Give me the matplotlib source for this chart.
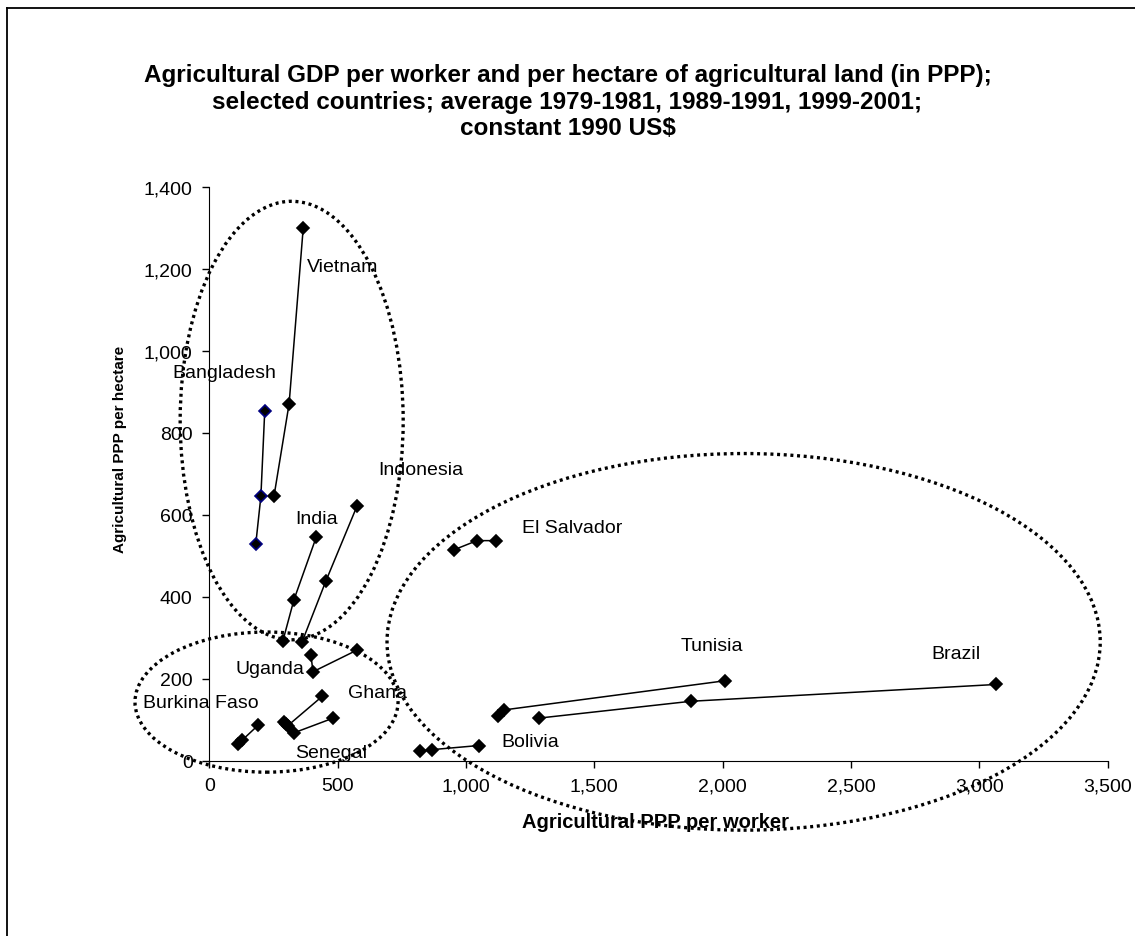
import matplotlib.pyplot as plt
import numpy as np
from matplotlib.patches import Ellipse
from matplotlib.lines import Line2D

plt.rcParams['font.family'] = ['Liberation Sans', 'DejaVu Sans']

# three period averages (1979-81, 1989-91, 1999-2001) per country
# x = agricultural PPP per worker, y = agricultural PPP per hectare
countries = ['Vietnam', 'Bangladesh', 'India', 'Indonesia', 'Uganda', 'Ghana',
             'Senegal', 'Burkina Faso', 'Bolivia', 'El Salvador', 'Tunisia', 'Brazil']
per_worker = {
    'Vietnam':      [252, 311, 366],
    'Bangladesh':   [181, 201, 216],
    'India':        [287, 330, 417],
    'Indonesia':    [361, 454, 576],
    'Uganda':       [396, 404, 576],
    'Ghana':        [290, 305, 440],
    'Senegal':      [300, 330, 483],
    'Burkina Faso': [113, 128, 191],
    'Bolivia':      [821, 869, 1050],
    'El Salvador':  [955, 1043, 1116],
    'Tunisia':      [1126, 1150, 2009],
    'Brazil':       [1286, 1877, 3066],
}
per_hectare = {
    'Vietnam':      [645, 871, 1300],
    'Bangladesh':   [528, 645, 853],
    'India':        [293, 393, 546],
    'Indonesia':    [289, 438, 622],
    'Uganda':       [258, 217, 270],
    'Ghana':        [95, 85, 157],
    'Senegal':      [90, 68, 104],
    'Burkina Faso': [41, 50, 87],
    'Bolivia':      [23, 27, 37],
    'El Salvador':  [515, 537, 537],
    'Tunisia':      [108, 124, 195],
    'Brazil':       [104, 145, 186],
}
# label anchor positions (data units)
label_pos = {
    'Vietnam': (381, 1206), 'Bangladesh': (-143, 947), 'Indonesia': (657, 711),
    'India': (334, 590), 'El Salvador': (1217, 568), 'Uganda': (104, 226),
    'Ghana': (540, 167), 'Burkina Faso': (191, 141), 'Senegal': (334, 19),
    'Bolivia': (1139, 46), 'Tunisia': (1837, 281), 'Brazil': (2815, 261),
}
# dotted groupings: (centre x, centre y, width, height) in data units
groups = [(321, 830, 869, 1070), (223, 143, 1025, 342), (2082, 290, 2779, 919)]

fig = plt.figure(figsize=(11.35, 9.37), dpi=100)
ax = fig.add_axes([0.1844, 0.1871, 0.7914, 0.6123])

for c in countries:
    edge = '#000080' if c == 'Bangladesh' else 'black'
    ax.plot(per_worker[c], per_hectare[c], color='black', lw=1.1, marker='D',
            markersize=6.2, markerfacecolor='black', markeredgecolor=edge,
            markeredgewidth=1.2, clip_on=False, zorder=3)
    lx, ly = label_pos[c]
    ha = 'right' if c == 'Burkina Faso' else 'left'
    ax.text(lx, ly, c, fontsize=14, ha=ha, va='center', clip_on=False, zorder=4)

for cx, cy, w, h in groups:
    ax.add_patch(Ellipse((cx, cy), w, h, fill=False, edgecolor='black', lw=2.4,
                         linestyle=(0, (0.9, 1.1)), clip_on=False, zorder=2))

ax.set_xlim(0, 3500)
ax.set_ylim(0, 1400)
ax.set_xticks(np.arange(0, 3501, 500))
ax.set_yticks(np.arange(0, 1401, 200))
ax.xaxis.set_major_formatter(plt.FuncFormatter(lambda v, p: f'{int(v):,}'))
ax.yaxis.set_major_formatter(plt.FuncFormatter(lambda v, p: f'{int(v):,}'))
ax.tick_params(direction='out', length=5, width=1, labelsize=14, pad=7)
for s in ['top', 'right']:
    ax.spines[s].set_visible(False)

fig.text(0.5776, 1 - 822 / 937, 'Agricultural PPP per worker', fontsize=14.5,
         fontweight='bold', ha='center', va='center')
fig.text(120 / 1135, 1 - 449 / 937, 'Agricultural PPP per hectare', fontsize=11,
         fontweight='bold', ha='center', va='center', rotation=90)

title = ('Agricultural GDP per worker and per hectare of agricultural land (in PPP);\n'
         'selected countries; average 1979-1981, 1989-1991, 1999-2001;\n'
         'constant 1990 US$')
fig.text(0.5, 1 - 102 / 937, title, fontsize=17.5, fontweight='bold',
         ha='center', va='center', linespacing=1.21)

# chart frame (cropped at right and bottom)
fig.add_artist(Line2D([7 / 1135, 7 / 1135], [0, 1 - 9 / 937], color='black', lw=1.3))
fig.add_artist(Line2D([7 / 1135, 1], [1 - 9 / 937, 1 - 9 / 937], color='black', lw=1.3))

fig.savefig('out.png', dpi=100, facecolor='white')
